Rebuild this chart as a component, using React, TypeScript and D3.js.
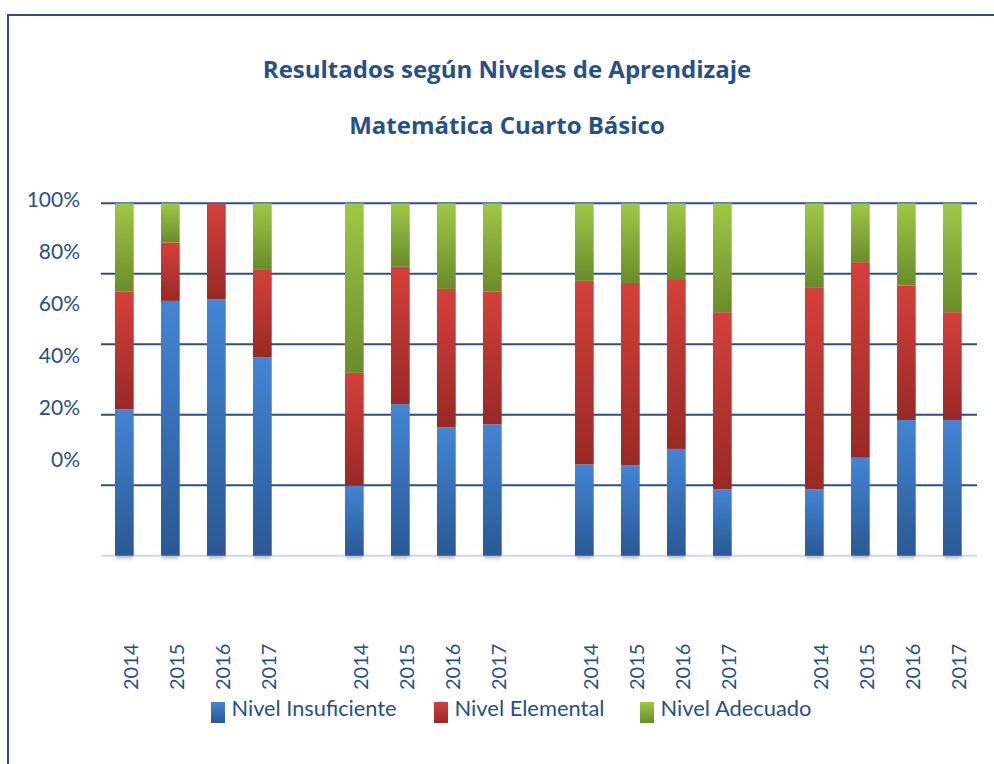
import React from "react";
import * as d3 from "d3";

const titleLines = ["Resultados según Niveles de Aprendizaje", "Matemática Cuarto Básico"];
const years = ["2014", "2015", "2016", "2017"];
const groups = ["A", "B", "C", "D"];
const seriesNames = ["Nivel Insuficiente", "Nivel Elemental", "Nivel Adecuado"];
// values per bar, group by group, years 2014..2017
const insuficiente = [41.5, 72.3, 72.8, 56.3, 19.9, 43.0, 36.4, 37.3, 25.9, 25.7, 30.3, 18.8, 18.8, 27.8, 38.5, 38.5];
const elemental = [33.4, 16.6, 27.2, 25.0, 32.0, 39.0, 39.3, 37.6, 52.1, 51.7, 48.2, 50.3, 57.4, 55.5, 38.2, 30.6];
const adecuado = [25.1, 11.1, 0.0, 18.7, 48.1, 18.0, 24.3, 25.1, 22.0, 22.6, 21.5, 30.9, 23.8, 16.7, 23.3, 30.9];
const yTickValues = [0, 20, 40, 60, 80, 100];
const yTickLabels = ["0%", "20%", "40%", "60%", "80%", "100%"];

const colors = [
  { top: "#4385d4", bottom: "#2a5894" },
  { top: "#d5403b", bottom: "#982925" },
  { top: "#9fc846", bottom: "#6a8c2a" },
];
const navy = "#26508a";

export default function App() {
  const W = 994, H = 764;
  const slots: string[] = [];
  groups.forEach((g, gi) => {
    if (gi > 0) slots.push("gap" + gi);
    years.forEach((yr) => slots.push(g + "-" + yr));
  });
  const x = d3.scaleBand<string>().domain(slots).range([101.35, 975.35]).paddingInner(0.593).paddingOuter(0.2965);
  const y = d3.scaleLinear().domain([0, 100]).range([555.7, 203.3]);
  const yLab = d3.scaleLinear().domain([0, 100]).range([467, 207]);

  const bars = groups.flatMap((g, gi) =>
    years.map((yr, yi) => {
      const i = gi * 4 + yi;
      return { key: g + "-" + yr, year: yr, vals: [insuficiente[i], elemental[i], adecuado[i]] };
    })
  );
  const stack = d3.stack<any>().keys(["0", "1", "2"]).value((d: any, k: string) => d.vals[+k]);
  const stacked = stack(bars as any);
  const bw = x.bandwidth();
  const legendX = [211, 434, 640];
  const legendLen = [165, 150, 151];

  return (
    <svg width={W} height={H} style={{ position: "absolute", left: 0, top: 0, background: "#fff" }}>
      <defs>
        {colors.map((c, i) => (
          <linearGradient key={i} id={"g" + i} x1="0" y1="0" x2="0" y2="1">
            <stop offset="0%" stopColor={c.top} />
            <stop offset="100%" stopColor={c.bottom} />
          </linearGradient>
        ))}
        <filter id="blur" x="-50%" y="-50%" width="200%" height="200%">
          <feGaussianBlur stdDeviation="1.5" />
        </filter>
      </defs>
      {/* frame */}
      <line x1={8} y1={15} x2={W} y2={15} stroke={navy} strokeWidth={2} />
      <line x1={8} y1={14} x2={8} y2={H} stroke={navy} strokeWidth={2} />
      {/* title */}
      <text x={507} y={78} textAnchor="middle" fill={navy} fontFamily="'Open Sans', sans-serif" fontWeight="bold" fontSize={24}>
        {titleLines[0]}
      </text>
      <text x={507} y={134} textAnchor="middle" fill={navy} fontFamily="'Open Sans', sans-serif" fontWeight="bold" fontSize={24}>
        {titleLines[1]}
      </text>
      {/* grid */}
      {yTickValues.filter((v) => v > 0).map((v) => (
        <line key={v} x1={101} x2={977} y1={y(v)} y2={y(v)} stroke="#2b4f86" strokeWidth={2} />
      ))}
      <line x1={101} x2={977} y1={y(0)} y2={y(0)} stroke="#c9daf0" strokeWidth={2} />
      {/* y labels */}
      {yTickValues.map((v, i) => (
        <text key={v} x={80} y={yLab(v)} textAnchor="end" fill={navy} fontFamily="Lato, sans-serif" fontSize={21}>
          {yTickLabels[i]}
        </text>
      ))}
      {/* shadows */}
      {bars.map((b) => (
        <rect key={"s" + b.key} x={(x(b.key) as number) + 1} y={y(0) - 1} width={bw - 2} height={4} fill="#999" opacity={0.6} filter="url(#blur)" />
      ))}
      {/* bars */}
      {stacked.map((layer, li) =>
        layer.map((seg: any, bi: number) => {
          const h = y(seg[0]) - y(seg[1]);
          if (h <= 0) return null;
          return (
            <rect key={li + "-" + bi} x={x(bars[bi].key)} y={y(seg[1])} width={bw} height={h} fill={`url(#g${li})`} />
          );
        })
      )}
      {/* x labels */}
      {bars.map((b) => (
        <text
          key={"t" + b.key}
          transform={`translate(${(x(b.key) as number) + bw / 2 + 13.5},690) rotate(-90)`}
          fill={navy}
          fontFamily="Lato, sans-serif"
          fontSize={20}
        >
          {b.year}
        </text>
      ))}
      {/* legend */}
      {seriesNames.map((s, i) => (
        <g key={s}>
          <rect x={legendX[i]} y={702} width={14} height={21} fill={`url(#g${i})`} />
          <text x={legendX[i] + 20.5} y={716} fill={navy} fontFamily="Lato, sans-serif" fontSize={21} textLength={legendLen[i]} lengthAdjust="spacingAndGlyphs">
            {s}
          </text>
        </g>
      ))}
    </svg>
  );
}
